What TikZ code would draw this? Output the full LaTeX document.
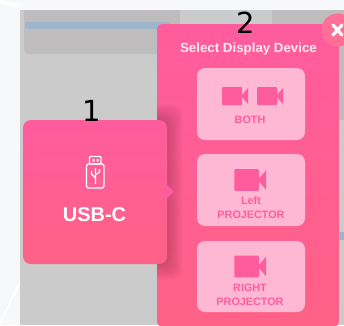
\documentclass[tikz,border=0pt]{standalone}
\usepackage{fontspec}
\setmainfont{Liberation Sans}
\newfontfamily\numfont{DejaVu Sans}
\definecolor{hot}{HTML}{FF5C9E}
\definecolor{hotlow}{HTML}{FF6286}
\definecolor{tile}{HTML}{FFB8D3}
\definecolor{greybg}{HTML}{CBCBCB}
\definecolor{greycard}{HTML}{BEBCBC}
\definecolor{pagebg}{HTML}{F6F8FA}
\definecolor{barblue}{HTML}{9DB6CC}
\definecolor{closepink}{HTML}{FF6F98}
\tikzset{
  x=1pt,y=-1pt,
  tilebox/.style={fill=tile,rounded corners=8pt},
  tiletext/.style={text=hot,font=\bfseries\fontsize{10.8}{14}\selectfont,align=center,inner sep=0pt},
  numlabel/.style={font=\numfont\fontsize{29}{30}\selectfont,text=black,inner sep=0pt},
  cam/.pic={
    \fill[hot,rounded corners=1pt] (-12,-9) rectangle (8,9);
    \fill[hot] (8,-1) -- (14,-8) -- (14,8) -- (8,1) -- cycle;
  }
}
\begin{document}
\begin{tikzpicture}
\useasboundingbox (0,0) rectangle (344,325);
\fill[pagebg] (0,0) rectangle (344,325);
\fill[white] (0,0) -- (45,10) -- (30,10) -- (0,3) -- cycle;
\fill[white] (0,322) -- (20,280) -- (20,284) -- (0,325) -- cycle;
\fill[greybg] (20,10) rectangle (344,325);
% dimmed background
\fill[greycard,rounded corners=5pt] (24,0) rectangle (180,54);
\fill[greycard] (272,10) rectangle (344,120);
\fill[pagebg] (20,0) rectangle (344,10);
\fill[barblue] (25,22) rectangle (170,29);
\fill[barblue] (339,232) rectangle (344,240);
% right panel
\shade[top color=hot,bottom color=hotlow,rounded corners=6pt] (157,24) rectangle (339,327);
% soft shadow of the left card, on the panel
\begin{scope}
\clip (157,24) rectangle (339,325);
\foreach \r in {1,...,16}{
  \fill[black,opacity=.012,rounded corners=10pt] (23-\r,120-\r) rectangle (167+\r,264+\r);
}
\end{scope}
% left card
\shade[top color=hot,bottom color=hotlow,rounded corners=8pt] (23,120) rectangle (167,264);
\fill[hot] (166,184) -- (174,191.5) -- (166,199) -- cycle;
% close
\node[circle,fill=closepink,minimum size=33pt,inner sep=0pt] (closebtn) at (338,30) {};
\draw[white,line width=3.2pt,line cap=round] (333,25) -- (342,35) (342,25) -- (333,35);
% usb icon
\draw[white,line width=1.3pt,rounded corners=1.5pt] (86.5,164) rectangle (104,188);
\draw[white,line width=1.3pt,rounded corners=1pt] (89.5,156.5) rectangle (101,164);
\fill[white] (92.5,159) rectangle (94.5,161.5) (96.5,159) rectangle (98.5,161.5);
\draw[white,line width=1.1pt] (95.5,168) -- (95.5,184) (95.5,178) -- (91.5,174) -- (91.5,171) (95.5,175) -- (99.5,172) -- (99.5,169);
\node[text=white,font=\bfseries\fontsize{20}{22}\selectfont,inner sep=0pt] (usb) at (94.5,215) {USB-C};
% heading
\node[text=white!88!hot,font=\bfseries\fontsize{13.3}{15}\selectfont,inner sep=0pt] (head) at (248.5,49) {Select Display Device};
% tiles
\fill[tilebox] (197,68) rectangle (305,140);
\fill[tilebox] (197,154) rectangle (305,226);
\fill[tilebox] (197,241) rectangle (305,312);
\pic at (234,96) {cam};
\pic at (269,96) {cam};
\pic[scale=1.22] at (249,180) {cam};
\pic[scale=1.22] at (249,266.5) {cam};
\node[tiletext] (both) at (250,120) {BOTH};
\node[tiletext] (left) at (251,208) {Left\\PROJECTOR};
\node[tiletext] (right) at (250,295) {RIGHT\\PROJECTOR};
\node[numlabel] (one) at (92,110.5) {1};
\node[numlabel] (two) at (246,23) {2};
\end{tikzpicture}
\end{document}
